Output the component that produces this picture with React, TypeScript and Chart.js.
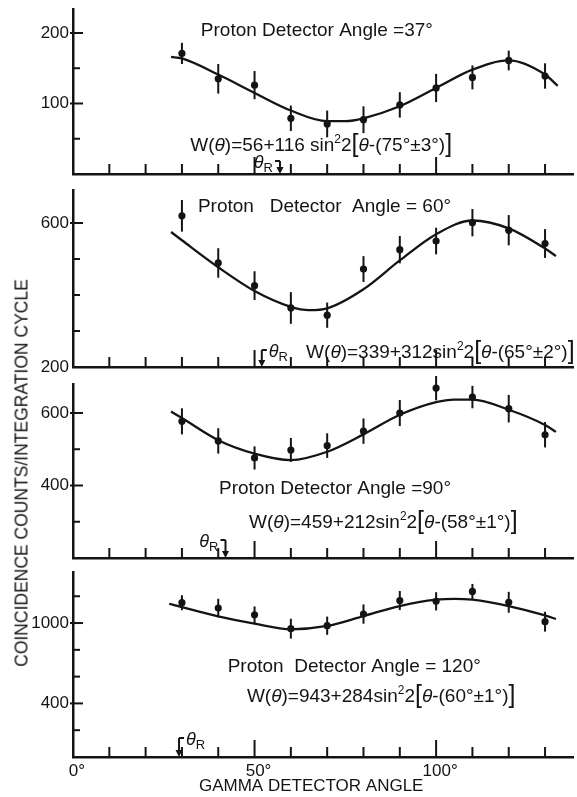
import React, { useEffect, useRef } from 'react';
import { Chart, registerables } from 'chart.js';

Chart.register(...registerables);

const INK = '#141414';
const FONT = "'Liberation Sans', Arial, sans-serif";

// ---------------- data ----------------
const gammaAngles = [30, 40, 50, 60, 70, 80, 90, 100, 110, 120, 130];
const gammaTicks = [0, 10, 20, 30, 40, 50, 60, 70, 80, 90, 100, 110, 120, 130];

const p37Counts = [171, 135, 126, 79, 71, 77, 98, 122, 137, 161, 139];
const p37Errors = [15, 21, 20, 18, 19, 19, 18, 20, 17, 14, 18];
const p37FitAngles = [27, 30, 40, 50, 60, 70, 75, 80, 90, 100, 110, 120, 130, 133.5];
const p37FitValues = [166, 164, 141, 115, 90, 75, 75, 79, 96, 122, 148, 161, 141, 125];

const p60Counts = [620, 489, 426, 364, 344, 472, 526, 550, 601, 580, 543];
const p60Errors = [44, 41, 40, 44, 35, 36, 38, 37, 38, 42, 40];
const p60FitAngles = [27, 30, 40, 50, 60, 65, 70, 80, 90, 100, 110, 120, 130, 133];
const p60FitValues = [575, 552, 477, 411, 367, 358, 363, 416, 496, 569, 607, 585, 529, 508];

const p90Counts = [577, 523, 476, 498, 510, 550, 600, 669, 644, 612, 540];
const p90Errors = [36, 35, 32, 33, 34, 35, 36, 34, 31, 38, 35];
const p90FitAngles = [27, 30, 40, 50, 60, 70, 80, 90, 100, 105, 110, 120, 130, 133];
const p90FitValues = [604, 586, 525, 488, 470, 493, 541, 595, 630, 637, 637, 609, 567, 548];

const p120Counts = [1152, 1112, 1062, 958, 980, 1067, 1168, 1162, 1236, 1155, 1010];
const p120Errors = [56, 69, 62, 74, 68, 72, 71, 68, 56, 78, 74];
const p120FitAngles = [26.5, 30, 40, 50, 60, 70, 80, 90, 100, 105, 110, 120, 130, 133];
const p120FitValues = [1144, 1119, 1050, 995, 953, 978, 1052, 1127, 1174, 1181, 1174, 1127, 1057, 1030];

const p37YTicks = [0, 50, 100, 150, 200];
const p60YTicks = [200, 300, 400, 500, 600];
const p90YTicks = [200, 300, 400, 500, 600];
const p120YTicks = [0, 200, 400, 600, 800, 1000, 1200];

const p37YLabels = [100, 200];
const p60YLabels = [200, 600];
const p90YLabels = [400, 600];
const p120YLabels = [400, 1000];

const xLabelAngles = [0, 50, 100];
const xLabelTexts = ['0°', '50°', '100°'];

const panelTitles = [
  'Proton Detector Angle =37°',
  'Proton   Detector  Angle = 60°',
  'Proton Detector Angle =90°',
  'Proton  Detector Angle = 120°',
];
const fitConstants = ['56', '339', '459', '943'];
const fitAmplitudes = ['116 ', '312', '212', '284'];
const fitPhases = ['75°±3°', '65°±2°', '58°±1°', '60°±1°'];
const recoilAngles = [57, 52, 42, 29.2];

const xAxisTitle = 'GAMMA DETECTOR ANGLE';
const yAxisTitle = 'COINCIDENCE COUNTS/INTEGRATION CYCLE';

const allCounts = [p37Counts, p60Counts, p90Counts, p120Counts];
const allErrors = [p37Errors, p60Errors, p90Errors, p120Errors];
const allFitAngles = [p37FitAngles, p60FitAngles, p90FitAngles, p120FitAngles];
const allFitValues = [p37FitValues, p60FitValues, p90FitValues, p120FitValues];
const allYTicks = [p37YTicks, p60YTicks, p90YTicks, p120YTicks];
const allYLabels = [p37YLabels, p60YLabels, p90YLabels, p120YLabels];

// ---------------- layout ----------------
type Layout = {
  top: number; height: number; padTop: number; padBottom: number; xHeight: number;
  yMin: number; yMax: number;
  titleAt: [number, number]; formulaAt: [number, number];
  recoilSide: 'left' | 'right'; arrowLen: number;
};

const layouts: Layout[] = [
  { top: 0, height: 182, padTop: 9, padBottom: 8, xHeight: 0, yMin: 0, yMax: 234,
    titleAt: [35.2, 206], formulaAt: [32.3, 42.6], recoilSide: 'left', arrowLen: 13 },
  { top: 182, height: 194, padTop: 8, padBottom: 9, xHeight: 0, yMin: 200, yMax: 691.7,
    titleAt: [34.4, 650], formulaAt: [64.2, 244], recoilSide: 'right', arrowLen: 17 },
  { top: 376, height: 190, padTop: 8, padBottom: 8, xHeight: 0, yMin: 200, yMax: 680,
    titleAt: [40.2, 396], formulaAt: [48.5, 302], recoilSide: 'left', arrowLen: 18 },
  { top: 566, height: 231, padTop: 6, padBottom: 0, xHeight: 40, yMin: 0, yMax: 1381,
    titleAt: [42.6, 687], formulaAt: [47.9, 463], recoilSide: 'right', arrowLen: 19 },
];

const X_MAX = 137.7;
const TEXT_SIZE = 19;

type Seg = { t: string; size?: number; italic?: boolean; dy?: number };

function formulaSegments(i: number): Seg[] {
  return [
    { t: 'W(' },
    { t: 'θ', italic: true },
    { t: `)=${fitConstants[i]}+${fitAmplitudes[i]}sin` },
    { t: '2', size: 12, dy: -8 },
    { t: '2' },
    { t: '[', size: 25, dy: 1 },
    { t: 'θ', italic: true },
    { t: `-(${fitPhases[i]})` },
    { t: ']', size: 25, dy: 1 },
  ];
}

function drawRich(ctx: CanvasRenderingContext2D, segs: Seg[], x: number, baseY: number) {
  let cx = x;
  for (const s of segs) {
    const size = s.size ?? TEXT_SIZE;
    ctx.font = `${s.italic ? 'italic ' : ''}${size}px ${FONT}`;
    ctx.fillText(s.t, cx, baseY + (s.dy ?? 0));
    cx += ctx.measureText(s.t).width;
  }
}

function drawRecoil(ctx: CanvasRenderingContext2D, px: number, base: number, side: 'left' | 'right', len: number) {
  const top = base - len;
  ctx.lineWidth = 2;
  ctx.beginPath();
  ctx.moveTo(px, top);
  ctx.lineTo(px, base - 5);
  ctx.stroke();
  ctx.beginPath();
  ctx.moveTo(px - 3.5, base - 7);
  ctx.lineTo(px + 3.5, base - 7);
  ctx.lineTo(px, base);
  ctx.closePath();
  ctx.fill();
  const dir = side === 'left' ? -1 : 1;
  ctx.beginPath();
  ctx.moveTo(px, top);
  ctx.lineTo(px + dir * 5, top);
  ctx.stroke();
  ctx.font = `italic 18px ${FONT}`;
  const w1 = ctx.measureText('θ').width;
  ctx.font = `13px ${FONT}`;
  const w2 = ctx.measureText('R').width;
  const start = side === 'left' ? px - 7 - w1 - w2 : px + 7;
  const tb = top + 7;
  ctx.font = `italic 18px ${FONT}`;
  ctx.fillText('θ', start, tb);
  ctx.font = `13px ${FONT}`;
  ctx.fillText('R', start + w1, tb + 4);
}

function decorPlugin(i: number) {
  const lay = layouts[i];
  return {
    id: 'decor' + i,
    afterDatasetsDraw(chart: any) {
      const { ctx, scales } = chart;
      const x = scales.x;
      const y = scales.y;
      ctx.save();
      ctx.strokeStyle = INK;
      ctx.lineWidth = 2;
      gammaAngles.forEach((a, k) => {
        const px = x.getPixelForValue(a);
        ctx.beginPath();
        ctx.moveTo(px, y.getPixelForValue(allCounts[i][k] - allErrors[i][k]));
        ctx.lineTo(px, y.getPixelForValue(allCounts[i][k] + allErrors[i][k]));
        ctx.stroke();
      });
      ctx.restore();
    },
    afterDraw(chart: any) {
      const { ctx, scales, chartArea } = chart;
      const x = scales.x;
      const y = scales.y;
      ctx.save();
      ctx.strokeStyle = INK;
      ctx.fillStyle = INK;
      ctx.lineWidth = 2;
      // inward tick marks on the gamma-angle axis
      x.ticks.forEach((t: any) => {
        if (t.value === 0) return;
        const px = x.getPixelForValue(t.value);
        const len = t.value % 50 === 0 ? 17 : 10;
        ctx.beginPath();
        ctx.moveTo(px, chartArea.bottom);
        ctx.lineTo(px, chartArea.bottom - len);
        ctx.stroke();
      });
      // inward tick marks on the count axis
      y.ticks.forEach((t: any) => {
        if (t.value === lay.yMin) return;
        const py = y.getPixelForValue(t.value);
        const labeled = allYLabels[i].includes(t.value);
        ctx.beginPath();
        ctx.moveTo(labeled ? chartArea.left - 3 : chartArea.left, py);
        ctx.lineTo(chartArea.left + (labeled ? 10 : 7), py);
        ctx.stroke();
      });
      // panel title and fitted formula
      ctx.textAlign = 'left';
      ctx.textBaseline = 'alphabetic';
      ctx.font = `${TEXT_SIZE}px ${FONT}`;
      ctx.fillText(panelTitles[i], x.getPixelForValue(lay.titleAt[0]), y.getPixelForValue(lay.titleAt[1]) + TEXT_SIZE * 0.36);
      drawRich(ctx, formulaSegments(i), x.getPixelForValue(lay.formulaAt[0]), y.getPixelForValue(lay.formulaAt[1]) + TEXT_SIZE * 0.36);
      // recoil angle marker
      drawRecoil(ctx, x.getPixelForValue(recoilAngles[i]), chartArea.bottom, lay.recoilSide, lay.arrowLen);
      ctx.restore();
    },
  };
}

function buildConfig(i: number): any {
  const lay = layouts[i];
  const isBottom = i === layouts.length - 1;
  return {
    type: 'line',
    data: {
      datasets: [
        {
          label: 'fit',
          data: allFitAngles[i].map((a, k) => ({ x: a, y: allFitValues[i][k] })),
          borderColor: INK,
          borderWidth: 2.3,
          pointRadius: 0,
          cubicInterpolationMode: 'monotone',
          fill: false,
        },
        {
          label: 'counts',
          data: gammaAngles.map((a, k) => ({ x: a, y: allCounts[i][k] })),
          showLine: false,
          pointRadius: 3.6,
          pointBackgroundColor: INK,
          pointBorderColor: INK,
          pointBorderWidth: 0,
        },
      ],
    },
    options: {
      animation: false,
      responsive: false,
      maintainAspectRatio: false,
      devicePixelRatio: 1,
      events: [],
      layout: { padding: { top: lay.padTop, bottom: lay.padBottom, left: 0, right: 1 } },
      plugins: { legend: { display: false }, tooltip: { enabled: false } },
      scales: {
        x: {
          type: 'linear',
          min: 0,
          max: X_MAX,
          grid: { display: false, drawTicks: false },
          border: { display: true, color: INK, width: 2.5 },
          afterBuildTicks: (s: any) => { s.ticks = gammaTicks.map((v) => ({ value: v })); },
          ticks: {
            display: isBottom,
            autoSkip: false,
            maxRotation: 0,
            padding: 4,
            labelOffset: 4,
            color: INK,
            font: { family: FONT, size: 17 },
            callback: (v: any) => {
              const k = xLabelAngles.indexOf(Number(v));
              return k >= 0 ? xLabelTexts[k] : '';
            },
          },
          title: isBottom
            ? { display: true, text: xAxisTitle + '     ', color: INK, font: { family: FONT, size: 17 }, padding: { top: 0, bottom: 0 } }
            : { display: false },
          afterFit: (s: any) => { s.height = lay.xHeight; s.paddingLeft = 0; s.paddingRight = 0; },
        },
        y: {
          type: 'linear',
          min: lay.yMin,
          max: lay.yMax,
          grid: { display: false, drawTicks: false },
          border: { display: true, color: INK, width: 2.5 },
          afterBuildTicks: (s: any) => { s.ticks = allYTicks[i].map((v) => ({ value: v })); },
          ticks: {
            autoSkip: false,
            padding: 4,
            color: INK,
            font: { family: FONT, size: 17 },
            callback: (v: any) => (allYLabels[i].includes(Number(v)) ? String(v) : ''),
          },
          afterFit: (s: any) => { s.width = 73; s.paddingTop = 0; s.paddingBottom = 0; },
        },
      },
    },
    plugins: [decorPlugin(i)],
  };
}

export default function App() {
  const canvasRefs = useRef<(HTMLCanvasElement | null)[]>([]);

  useEffect(() => {
    const charts = layouts.map((_, i) => new Chart(canvasRefs.current[i] as HTMLCanvasElement, buildConfig(i)));
    return () => charts.forEach((c) => c.destroy());
  }, []);

  return (
    <div style={{ position: 'absolute', left: 0, top: 0, width: 577, height: 797, background: '#fff', overflow: 'hidden' }}>
      {layouts.map((lay, i) => (
        <canvas
          key={i}
          ref={(el) => { canvasRefs.current[i] = el; }}
          width={577}
          height={lay.height}
          style={{ position: 'absolute', left: 0, top: lay.top, width: 577, height: lay.height }}
        />
      ))}
      <div
        style={{
          position: 'absolute',
          left: 22,
          top: 473,
          transform: 'translate(-50%, -50%) rotate(-90deg)',
          whiteSpace: 'nowrap',
          font: `17.5px ${FONT}`,
          color: INK,
        }}
      >
        {yAxisTitle}
      </div>
    </div>
  );
}
